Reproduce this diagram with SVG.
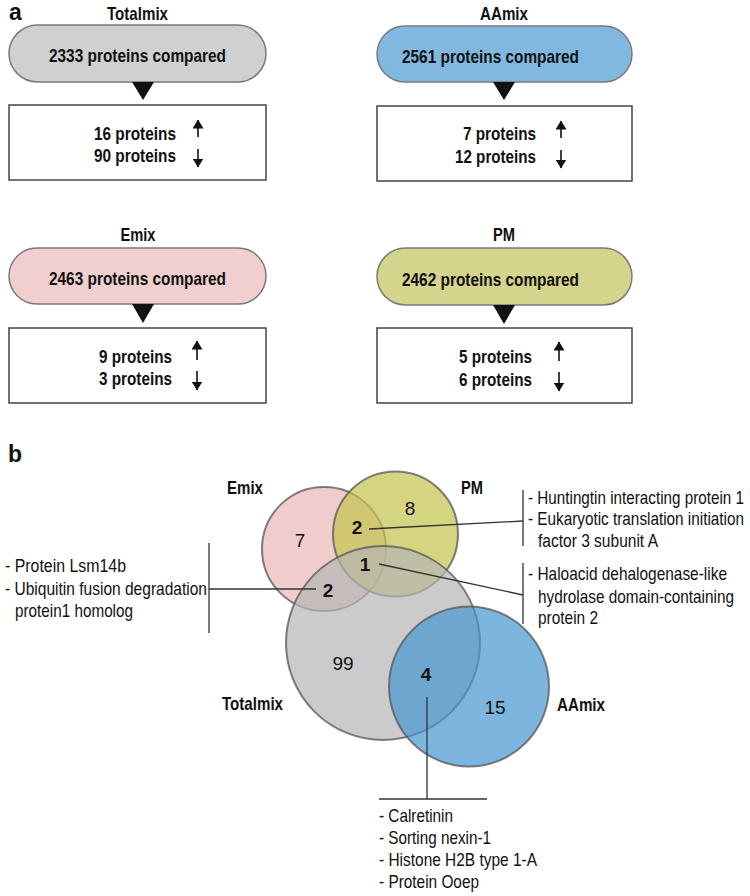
<svg xmlns="http://www.w3.org/2000/svg" width="750" height="896" viewBox="0 0 750 896">
<defs>
<style>
.t{font-family:'Liberation Sans Narrow','Arial Narrow','Liberation Sans',Arial,sans-serif;font-size:19px;fill:#111}
.b{font-weight:bold}
.m{text-anchor:middle}
.e{text-anchor:end}
.pl{font-family:'Liberation Sans',Arial,sans-serif;font-weight:bold;font-size:23px;fill:#111}
.pill{stroke:#7a7a7a;stroke-width:1.5}
.box{fill:#fff;stroke:#444;stroke-width:1.5}
.arr{stroke:#111;stroke-width:1.6;fill:none}
.tri{fill:#111}
.c{stroke:#555;stroke-opacity:0.75;stroke-width:2;fill-opacity:0.7}
.ln{stroke:#333;stroke-width:1.3;fill:none}
</style>
<marker id="ah" viewBox="0 0 9 11" refX="8.5" refY="5.5" markerWidth="9" markerHeight="11" markerUnits="userSpaceOnUse" orient="auto">
<path d="M0,0 L9,5.5 L0,11 z" fill="#111"/>
</marker>
</defs>
<rect width="750" height="896" fill="#fff"/>

<text class="pl" x="9" y="20">a</text>
<text class="pl" x="8" y="462">b</text>

<g id="totalmix-a">
<text class="t b m" x="137.5" y="20" textLength="61" lengthAdjust="spacingAndGlyphs">Totalmix</text>
<rect class="pill" x="9" y="25" width="257" height="57" rx="28.5" fill="#d0d0d0"/>
<text class="t b m" x="137.5" y="62" textLength="177" lengthAdjust="spacingAndGlyphs">2333 proteins compared</text>
<rect class="box" x="9" y="105" width="257" height="75"/>
<text class="t b e" x="176" y="139.5" textLength="82" lengthAdjust="spacingAndGlyphs">16 proteins</text>
<text class="t b e" x="176" y="162" textLength="82" lengthAdjust="spacingAndGlyphs">90 proteins</text>
<line class="arr" x1="198" y1="137" x2="198" y2="120" marker-end="url(#ah)"/>
<line class="arr" x1="198" y1="149" x2="198" y2="167" marker-end="url(#ah)"/>
</g>

<g id="aamix-a">
<text class="t b m" x="504" y="20" textLength="48" lengthAdjust="spacingAndGlyphs">AAmix</text>
<rect class="pill" x="377" y="26" width="255" height="56" rx="28" fill="#80b8df"/>
<text class="t b" x="402" y="62.5" textLength="177" lengthAdjust="spacingAndGlyphs">2561 proteins compared</text>
<rect class="box" x="377" y="106" width="255" height="75"/>
<text class="t b e" x="536" y="140" textLength="73" lengthAdjust="spacingAndGlyphs">7 proteins</text>
<text class="t b e" x="536" y="162.5" textLength="81" lengthAdjust="spacingAndGlyphs">12 proteins</text>
<line class="arr" x1="561" y1="138" x2="561" y2="121" marker-end="url(#ah)"/>
<line class="arr" x1="561" y1="150" x2="561" y2="168" marker-end="url(#ah)"/>
</g>

<g id="emix-a">
<text class="t b m" x="138" y="240.5" textLength="35" lengthAdjust="spacingAndGlyphs">Emix</text>
<rect class="pill" x="9" y="248" width="257" height="56" rx="28" fill="#f2cfcf"/>
<text class="t b m" x="137.5" y="285" textLength="177" lengthAdjust="spacingAndGlyphs">2463 proteins compared</text>
<rect class="box" x="9" y="328" width="257" height="75"/>
<text class="t b e" x="172" y="362.5" textLength="73" lengthAdjust="spacingAndGlyphs">9 proteins</text>
<text class="t b e" x="172" y="385" textLength="73" lengthAdjust="spacingAndGlyphs">3 proteins</text>
<line class="arr" x1="197" y1="360" x2="197" y2="341" marker-end="url(#ah)"/>
<line class="arr" x1="197" y1="371" x2="197" y2="390" marker-end="url(#ah)"/>
</g>

<g id="pm-a">
<text class="t b m" x="504" y="240.5" textLength="22" lengthAdjust="spacingAndGlyphs">PM</text>
<rect class="pill" x="377" y="248" width="255" height="57" rx="28.5" fill="#d4d48c"/>
<text class="t b" x="402" y="285.5" textLength="177" lengthAdjust="spacingAndGlyphs">2462 proteins compared</text>
<rect class="box" x="377" y="328" width="255" height="75"/>
<text class="t b e" x="532" y="363" textLength="73" lengthAdjust="spacingAndGlyphs">5 proteins</text>
<text class="t b e" x="532" y="385.5" textLength="73" lengthAdjust="spacingAndGlyphs">6 proteins</text>
<line class="arr" x1="559" y1="361" x2="559" y2="342" marker-end="url(#ah)"/>
<line class="arr" x1="559" y1="372" x2="559" y2="391" marker-end="url(#ah)"/>
</g>

<g id="venn-emix">
<circle class="c" cx="324" cy="549" r="62" fill="#eab6b6"/>
</g>
<g id="venn-pm">
<circle class="c" cx="395.5" cy="534" r="62.5" fill="#c3c34c"/>
</g>
<g id="venn-totalmix">
<circle class="c" cx="383" cy="643" r="97" fill="#b5b5b5"/>
</g>
<g id="venn-aamix">
<circle class="c" cx="469" cy="686.5" r="80" fill="#4597d0"/>
</g>

<g id="connectors">
<path class="tri" d="M132,82 L154,82 L143,100 z"/>
<path class="tri" d="M493,82 L515,82 L504,100 z"/>
<path class="tri" d="M132,304 L154,304 L143,323 z"/>
<path class="tri" d="M493,305 L515,305 L504,324 z"/>
<line class="ln" x1="209" y1="543" x2="209" y2="633"/>
<line class="ln" x1="209" y1="589" x2="316" y2="589"/>
<line class="ln" x1="523" y1="490" x2="523" y2="546"/>
<line class="ln" x1="369" y1="529" x2="523" y2="521"/>
<line class="ln" x1="523" y1="563" x2="523" y2="624"/>
<line class="ln" x1="379" y1="564" x2="523" y2="595"/>
<line class="ln" x1="427" y1="697" x2="427" y2="799"/>
<line class="ln" x1="379" y1="799" x2="487" y2="799"/>
</g>

<g id="venn-labels">
<text class="t b m" x="245" y="493.5" textLength="36" lengthAdjust="spacingAndGlyphs">Emix</text>
<text class="t b m" x="472" y="493.5" textLength="22" lengthAdjust="spacingAndGlyphs">PM</text>
<text class="t b e" x="283" y="709.5" textLength="61" lengthAdjust="spacingAndGlyphs">Totalmix</text>
<text class="t b" x="557" y="710.5" textLength="48" lengthAdjust="spacingAndGlyphs">AAmix</text>
<text class="t m" x="300" y="547">7</text>
<text class="t m" x="410" y="515">8</text>
<text class="t b m" x="357" y="534">2</text>
<text class="t b m" x="365" y="571">1</text>
<text class="t b m" x="328" y="597">2</text>
<text class="t m" x="343" y="670">99</text>
<text class="t b m" x="426" y="681">4</text>
<text class="t m" x="495" y="714">15</text>
</g>

<g id="list-emix-total">
<text class="t" x="5" y="571.5" textLength="121" lengthAdjust="spacingAndGlyphs">- Protein Lsm14b</text>
<text class="t" x="5" y="594.5" textLength="202" lengthAdjust="spacingAndGlyphs">- Ubiquitin fusion degradation</text>
<text class="t" x="15" y="616.5" textLength="118" lengthAdjust="spacingAndGlyphs">protein1 homolog</text>
</g>
<g id="list-emix-pm">
<text class="t" x="528" y="503.5" textLength="216" lengthAdjust="spacingAndGlyphs">- Huntingtin interacting protein 1</text>
<text class="t" x="528" y="525" textLength="216" lengthAdjust="spacingAndGlyphs">- Eukaryotic translation initiation</text>
<text class="t" x="538" y="546.5" textLength="120" lengthAdjust="spacingAndGlyphs">factor 3 subunit A</text>
</g>
<g id="list-all3">
<text class="t" x="528" y="579.5" textLength="199" lengthAdjust="spacingAndGlyphs">- Haloacid dehalogenase-like</text>
<text class="t" x="538" y="602.5" textLength="196" lengthAdjust="spacingAndGlyphs">hydrolase domain-containing</text>
<text class="t" x="538" y="623.5" textLength="60" lengthAdjust="spacingAndGlyphs">protein 2</text>
</g>
<g id="list-total-aa">
<text class="t" x="379" y="821.5" textLength="74" lengthAdjust="spacingAndGlyphs">- Calretinin</text>
<text class="t" x="379" y="843.5" textLength="112" lengthAdjust="spacingAndGlyphs">- Sorting nexin-1</text>
<text class="t" x="379" y="866" textLength="158" lengthAdjust="spacingAndGlyphs">- Histone H2B type 1-A</text>
<text class="t" x="379" y="888" textLength="100" lengthAdjust="spacingAndGlyphs">- Protein Ooep</text>
</g>
</svg>
